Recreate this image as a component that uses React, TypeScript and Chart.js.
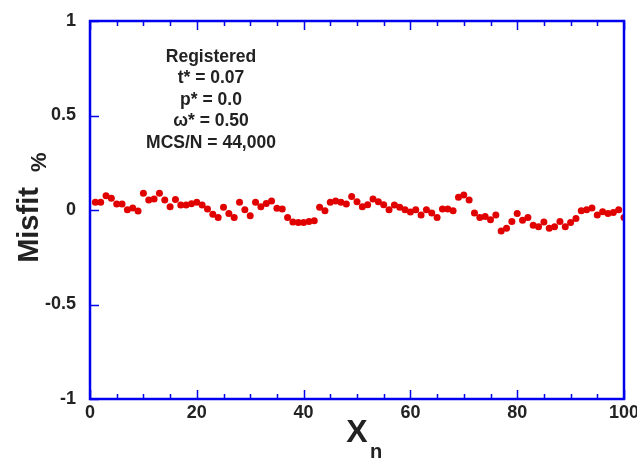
import React, { useEffect, useRef } from "react";
import { Chart, registerables } from "chart.js";

Chart.register(...registerables);

const misfit: number[] = [
  0.041, 0.041, 0.076, 0.062, 0.032, 0.032, 0.001, 0.010, -0.005, 0.089,
  0.053, 0.058, 0.089, 0.053, 0.017, 0.055, 0.026, 0.026, 0.033, 0.041,
  0.026, 0.005, -0.022, -0.040, 0.014, -0.018, -0.040, 0.041, 0.001, -0.031,
  0.041, 0.017, 0.035, 0.048, 0.009, 0.005, -0.040, -0.063, -0.066, -0.066,
  -0.061, -0.057, 0.014, -0.004, 0.041, 0.048, 0.041, 0.032, 0.071, 0.044,
  0.017, 0.028, 0.058, 0.044, 0.028, 0.001, 0.026, 0.014, 0.001, -0.010,
  0.001, -0.027, 0.001, -0.016, -0.040, 0.005, 0.005, -0.004, 0.067, 0.080,
  0.053, -0.016, -0.040, -0.034, -0.052, -0.027, -0.111, -0.097, -0.061, -0.018,
  -0.054, -0.040, -0.081, -0.088, -0.063, -0.097, -0.088, -0.061, -0.088, -0.066,
  -0.045, -0.004, 0.001, 0.010, -0.027, -0.009, -0.018, -0.013, 0.001, -0.040,
];

const xMajorTicks: number[] = [0, 20, 40, 60, 80, 100];
const xMinorTicks: number[] = [5, 10, 15, 25, 30, 35, 45, 50, 55, 65, 70, 75, 85, 90, 95];
const yMajorTicks: number[] = [-1, -0.5, 0, 0.5, 1];
const yTickLabels: Record<string, string> = { "-1": "-1", "-0.5": "-0.5", "0": "0", "0.5": "0.5", "1": "1" };

const annotationLines: string[] = [
  "Registered",
  "t* = 0.07",
  "p* = 0.0",
  "\u03c9* = 0.50",
  "MCS/N = 44,000",
];

const AXIS_BLUE = "#0000ee";
const TEXT = "#222222";
const FONT = "'Liberation Sans', Arial, sans-serif";

const framePlugin = {
  id: "framePlugin",
  afterDraw(chart: any) {
    const { ctx, chartArea } = chart;
    const xs = chart.scales.x;
    const ys = chart.scales.y;
    const { left, right, top, bottom } = chartArea;
    ctx.save();
    ctx.strokeStyle = AXIS_BLUE;
    ctx.lineWidth = 1.5;
    const drawX = (v: number, len: number) => {
      const px = Math.round(xs.getPixelForValue(v)) + 0.5;
      ctx.beginPath();
      ctx.moveTo(px, bottom);
      ctx.lineTo(px, bottom - len);
      ctx.moveTo(px, top);
      ctx.lineTo(px, top + len);
      ctx.stroke();
    };
    xMajorTicks.forEach((v) => drawX(v, 9));
    xMinorTicks.forEach((v) => drawX(v, 5));
    yMajorTicks.forEach((v) => {
      const py = Math.round(ys.getPixelForValue(v)) + 0.5;
      ctx.beginPath();
      ctx.moveTo(left, py);
      ctx.lineTo(left + 9, py);
      ctx.stroke();
    });
    ctx.lineWidth = 2.5;
    ctx.strokeRect(left, top, right - left, bottom - top);

    ctx.fillStyle = TEXT;
    ctx.textAlign = "center";
    ctx.textBaseline = "middle";
    ctx.font = `bold 17.5px ${FONT}`;
    const ax = 211;
    annotationLines.forEach((t, i) => {
      ctx.fillText(t, ax, 57 + i * 21.5);
    });

    ctx.font = `bold 32px ${FONT}`;
    ctx.fillText("X", 357, 433);
    ctx.font = `bold 20px ${FONT}`;
    ctx.fillText("n", 376, 452);

    ctx.save();
    ctx.translate(30, 225);
    ctx.rotate(-Math.PI / 2);
    ctx.font = `bold 29px ${FONT}`;
    ctx.textAlign = "center";
    ctx.fillText("Misfit", 0, 0);
    ctx.font = `bold 22px ${FONT}`;
    ctx.textAlign = "left";
    ctx.fillText("%", 53, 10);
    ctx.restore();

    ctx.restore();
  },
};

export default function App() {
  const ref = useRef<HTMLCanvasElement>(null);
  useEffect(() => {
    document.body.style.margin = "0";
    const canvas = ref.current!;
    const chart = new Chart(canvas, {
      type: "scatter",
      data: {
        datasets: [
          {
            data: misfit.map((y, i) => ({ x: i + 1, y })),
            backgroundColor: "#e10000",
            borderColor: "#e10000",
            pointRadius: 3.5,
            borderWidth: 0,
          },
        ],
      },
      options: {
        responsive: false,
        animation: false,
        maintainAspectRatio: false,
        layout: { padding: { top: 21, right: 13, bottom: 0, left: 0 } },
        plugins: { legend: { display: false }, tooltip: { enabled: false } },
        scales: {
          x: {
            type: "linear",
            min: 0,
            max: 100,
            grid: { display: false, drawTicks: false },
            border: { display: false },
            ticks: {
              stepSize: 20,
              padding: 3,
              color: TEXT,
              font: { family: FONT, weight: "bold", size: 18 },
              maxRotation: 0,
            },
            afterFit(scale: any) {
              scale.height = 62;
              scale.paddingLeft = 0;
              scale.paddingRight = 0;
            },
          },
          y: {
            type: "linear",
            min: -1,
            max: 1,
            grid: { display: false, drawTicks: false },
            border: { display: false },
            ticks: {
              stepSize: 0.5,
              padding: 14,
              color: TEXT,
              font: { family: FONT, weight: "bold", size: 18 },
              callback: (v: any) => yTickLabels[String(v)] ?? String(v),
            },
            afterFit(scale: any) {
              scale.width = 90;
              scale.paddingTop = 0;
              scale.paddingBottom = 0;
            },
          },
        },
      },
      plugins: [framePlugin],
    });
    return () => chart.destroy();
  }, []);
  return (
    <div style={{ position: "absolute", left: 0, top: 0, width: 637, height: 461, background: "#fff" }}>
      <canvas ref={ref} width={637} height={461} />
    </div>
  );
}
